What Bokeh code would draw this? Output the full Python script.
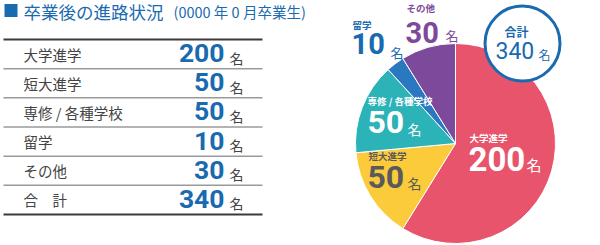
import math
from bokeh.plotting import figure
from bokeh.models import Range1d
from bokeh.core.properties import value
from bokeh.embed import file_html
from bokeh.resources import INLINE

# ---- data ----
categories = ["大学進学", "短大進学", "専修 / 各種学校", "留学", "その他"]
counts = [200, 50, 50, 10, 30]
total_label = "合　計"
pie_total_label = "合計"
unit = "名"
title_text = "卒業後の進路状況"
subtitle_text = "(0000 年 0 月卒業生)"
slice_colors = ["#E8546B", "#FBCB3C", "#2BB3B7", "#2A78C0", "#7D4A9B"]
label_colors = ["#FFFFFF", "#5A5A5A", "#FFFFFF", "#1A6AB0", "#7D4A9B"]

W, H = 600, 245
JP = value("Noto Sans CJK JP")
NUM = value("Roboto")
BLUE = "#1A6AB0"


def Y(v):
    return H - v


p = figure(width=W, height=H, x_range=Range1d(0, W), y_range=Range1d(0, H),
           output_backend="svg", toolbar_location=None,
           x_axis_type=None, y_axis_type=None, min_border=0)
p.grid.visible = False
p.outline_line_color = None
p.background_fill_color = "white"
p.border_fill_color = "white"

# ---- title ----
p.rect(x=[10.5], y=[Y(10)], width=13, height=13, fill_color=BLUE, line_color=None)
p.text(x=[23], y=[Y(11)], text=[title_text], text_font=JP, text_font_size="17.5px",
       text_color=BLUE, text_baseline="middle")
p.text(x=[173], y=[Y(11)], text=[subtitle_text], text_font=JP, text_font_size="14.5px",
       text_color=BLUE, text_baseline="middle")

# ---- table ----
row_labels = categories + [total_label]
row_values = counts + [sum(counts)]
top, row_h = 39.0, 29.17
n = len(row_labels)
tops = [top + row_h * i for i in range(n)]

inner = [top + row_h * i for i in range(1, n)]
p.segment(x0=[3] * len(inner), x1=[262] * len(inner), y0=[Y(v) for v in inner],
          y1=[Y(v) for v in inner], line_color="#9A9A9A", line_width=1.5)
p.segment(x0=[3, 3], x1=[262, 262], y0=[Y(top), Y(top + row_h * n)],
          y1=[Y(top), Y(top + row_h * n)], line_color="#3A3A3A", line_width=2)

p.text(x=[23] * n, y=[Y(t + 14.5) for t in tops], text=row_labels, text_font=JP,
       text_font_size="14.5px", text_color="#444444", text_baseline="middle")
p.text(x=[224] * n, y=[Y(t + 13.5) for t in tops], text=[str(v) for v in row_values],
       text_font=NUM, text_font_style="bold", text_font_size="26.5px", text_color=BLUE,
       text_align="right", text_baseline="middle")
p.text(x=[229] * n, y=[Y(t + 18) for t in tops], text=[unit] * n, text_font=JP,
       text_font_size="14px", text_color="#444444", text_baseline="middle")

# ---- pie ----
cx, cy, r = 455, 143, 100
tot = sum(counts)
cum = 0
starts, ends = [], []
for c in counts:
    starts.append(math.pi / 2 - 2 * math.pi * cum / tot)
    cum += c
    ends.append(math.pi / 2 - 2 * math.pi * cum / tot)
p.wedge(x=[cx] * len(counts), y=[Y(cy)] * len(counts), radius=r, start_angle=starts,
        end_angle=ends, direction="clock", fill_color=slice_colors,
        line_color="white", line_width=1)

# pie labels (visual centres)
small_pos = [(469, 137.5), (368, 155), (367, 100), (352, 24.5), (406, 7.5)]
big_pos = [(468, 158), (367, 176), (367, 121), (351, 43), (405, 32)]
big_size = ["33px", "32px", "32px", "29px", "29px"]
unit_pos = [(526, 164), (407, 182.5), (407, 128), (390, 52), (445, 35)]
unit_size = ["15px", "14px", "14px", "13px", "13px"]

for i, cat in enumerate(categories):
    col = label_colors[i]
    p.text(x=[small_pos[i][0]], y=[Y(small_pos[i][1])], text=[cat], text_font=JP,
           text_font_style="bold", text_font_size="9.5px", text_color=col,
           text_baseline="middle")
    p.text(x=[big_pos[i][0]], y=[Y(big_pos[i][1])], text=[str(counts[i])], text_font=NUM,
           text_font_style="bold", text_font_size=big_size[i], text_color=col,
           text_baseline="middle")
    p.text(x=[unit_pos[i][0]], y=[Y(unit_pos[i][1])], text=[unit], text_font=JP,
           text_font_size=unit_size[i], text_color=col, text_baseline="middle")

# total circle
p.circle(x=[522], y=[Y(43)], radius=37.5, fill_color="white", line_color=BLUE, line_width=3)
p.text(x=[516], y=[Y(31)], text=[pie_total_label], text_font=JP, text_font_style="bold",
       text_font_size="12px", text_color=BLUE, text_align="center", text_baseline="middle")
p.text(x=[495], y=[Y(49.5)], text=[str(tot)], text_font=NUM, text_font_size="23px",
       text_color=BLUE, text_baseline="middle")
p.text(x=[538], y=[Y(53.5)], text=[unit], text_font=JP, text_font_size="12px",
       text_color=BLUE, text_baseline="middle")

open("out.html", "w").write(file_html(p, INLINE))
